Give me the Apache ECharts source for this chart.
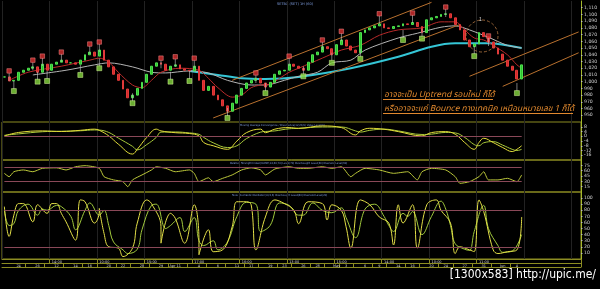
<!DOCTYPE html>
<html><head><meta charset="utf-8">
<script src="https://cdn.jsdelivr.net/npm/echarts@6/dist/echarts.min.js"></script>
<style>html,body{margin:0;padding:0;background:#000;}#c{width:600px;height:289px;}</style>
</head><body><div id="c"></div>
<script>
// ---------- data ----------
const N = 122;
const categories = Array.from({length: N}, (_, i) => String(i));
const closes = [1007,1001,1002,1014,1017,1020,1022,1014,1026,1017,
 1026,1029,1032,1028,1028,1026,1032,1040,1044,1038,
 1047,1032,1022,1011,1002,989,976,980,990,999,
 1011,1023,1028,1026,1017,1023,1025,1019,1017,1016,
 1023,1002,987,993,980,973,964,956,968,980,
 990,998,1002,1005,998,992,999,1011,1016,1017,
 1026,1023,1020,1017,1029,1040,1044,1052,1049,1040,
 1055,1062,1053,1047,1043,1073,1077,1080,1083,1086,
 1080,1079,1082,1083,1086,1085,1088,1082,1073,1092,
 1095,1097,1100,1101,1095,1085,1077,1062,1052,1056,
 1073,1067,1059,1050,1041,1032,1023,1017,1004,1025];
const lastPriceLabel = '1,025';

const maShort = [[1.2,1002],[5.4,1014],[11.7,1023],[18,1032],[20.1,1035],[22.3,1029],[24.4,1014],[26.5,995],[28.6,991],[30.7,1002],[32.8,1014],[37,1020],[41.2,1017],[43.3,1005],[45.4,991],[47.5,977],[49.6,980],[51.7,991],[53.9,995],[56,996],[58.1,1005],[60.2,1014],[62.3,1020],[66.5,1035],[70.7,1047],[74.9,1054],[79.1,1069],[83.4,1077],[87.6,1080],[91.8,1089],[94.9,1089],[97.1,1077],[99.2,1065],[101.3,1062],[103.4,1054],[105.5,1040],[107.6,1025],[108.9,1020]];
const maMid = [[6.4,1010],[13.2,1017],[18.7,1025],[22.3,1028],[27.1,1022],[30.7,1014],[34.3,1013],[38.5,1016],[42.7,1013],[46.9,1002],[51.7,995],[55.3,995],[58.7,1002],[62.3,1008],[65.9,1014],[69.2,1028],[72.8,1032],[76.4,1047],[83.4,1065],[86.9,1072],[91.8,1081],[94.5,1083],[97.5,1077],[101.7,1066],[105.9,1054],[108.6,1050]];
const maLong = [[38.5,1016],[44.8,1010],[49.6,1005],[55.3,1004],[62.3,1007],[72.8,1020],[83.4,1037],[90.3,1052],[94.5,1057],[101.7,1057],[108.6,1050]];

const chanAUpper = [[47.5,1002],[90.1,1118]];
const chanALower = [[44.4,946],[96,1085]];
const chanBUpper = [[98.1,1008],[121.4,1074]];
const chanBLower = [[105,993],[121.4,1043]];

const sellMarks = [[0.5,1016],[5.6,1032],[7.9,1038],[12.1,1044],[17.8,1056],[20.1,1059],[33.2,1035],[35.5,1037],[40.4,1035],[53.2,1013],[60.2,1038],[67.1,1062],[70.9,1075],[78.7,1101],[85.9,1102],[92.6,1111],[101.9,1068]];
const buyMarks = [[1.6,986],[7.1,1000],[9.2,1001],[15.5,1010],[19.7,1020],[27.3,968],[34.5,1000],[39.1,1001],[47.1,946],[55.3,983],[63.1,1008],[69.4,1028],[74.5,1034],[84.2,1062],[88.4,1064],[98.7,1038],[108,983]];

const macdLine = [[0,0.3],[3.3,3.2],[7.5,4.5],[11.7,4],[15.9,5],[18.7,6],[20.1,5],[22.2,0.3],[24.4,-6.6],[26.5,-15],[27.9,-11],[30,-1],[31.7,6],[33.4,4.5],[35.5,3],[38.5,2.3],[40.6,0.3],[41.8,-5.3],[44,-8],[46.9,-11],[49,-4],[51.1,3],[53.9,6],[55.3,3],[57.4,6],[60.2,7.3],[62.3,6.7],[66.5,8.7],[70.7,7.3],[73.5,1.1],[74.9,4.5],[77,6.7],[79.8,5.9],[83.4,3.9],[87.6,0.3],[90.3,3.1],[93.3,3.9],[94.5,1.7],[96.6,-5.3],[98.5,-11],[100.2,-5.3],[101.3,-1.7],[102.9,-5.3],[105.1,-9.5],[107.2,-12.9],[108.2,-11],[109.1,-8]];
const signalLine = [[0,0.8],[3.3,2],[7.5,3.8],[11.7,4.2],[15.9,4.6],[18.7,5.3],[20.1,5.2],[22.2,3.2],[24.4,-1.5],[26.5,-8.5],[27.9,-11.5],[30,-7],[31.7,-1],[33.4,3.5],[35.5,3.6],[38.5,2.8],[40.6,1.6],[41.8,-1],[44,-5.5],[46.9,-9.5],[49,-8],[51.1,-2],[53.9,3.5],[55.3,4],[57.4,4.5],[60.2,6.3],[62.3,6.6],[66.5,7.8],[70.7,7.8],[73.5,4.5],[74.9,3.5],[77,5],[79.8,6],[83.4,4.5],[87.6,1.5],[90.3,1.8],[93.3,3.2],[94.5,2.8],[96.6,-1],[98.5,-7],[100.2,-8],[101.3,-5.5],[102.9,-4.5],[105.1,-7.5],[107.2,-11],[108.2,-12],[109.1,-11]];

const rsiLine = [[0,52.5],[0.5,43],[1.8,57],[3.9,62],[6,57],[8.1,66.6],[11.1,68],[13.2,62],[15.3,71],[17.4,74],[19.5,66.6],[20.8,43],[22.9,34],[25,29],[26.1,15],[27.1,34],[28.6,48],[30.7,62],[32.2,71],[34.3,66.6],[36.4,57],[38.5,62],[39.7,52.5],[41.2,29],[42.7,40],[43.9,29],[46.1,38.5],[47.5,48],[49.6,62],[51.7,68],[53.9,62],[55.3,48],[57.4,64.7],[60.2,71],[62.3,66.6],[64.4,66.6],[66.5,71],[69.2,66.6],[70.7,71],[72.8,43],[74.3,52.5],[76.4,66.6],[79.1,62],[81.9,52.5],[84.8,57],[87.1,34],[88.2,57],[90.3,66.6],[93.3,62],[94.5,43],[95.6,24.4],[97.5,29],[99.6,43],[100.6,57],[101.9,34],[104.4,34],[105.9,38.5],[108,29],[109.1,48]];

const stochK = [[0,86],[0.8,37],[1.8,72],[2.7,91],[3.9,91],[6,61],[7.1,89],[8.6,75],[9.6,91],[11.3,91],[12.3,75],[13.4,61],[14.5,31],[15.5,97],[17.4,94],[18.5,59],[19.5,78],[20.1,83],[21.2,42],[22.2,20],[23.7,18],[25.4,4],[26.9,18],[28.2,59],[29.6,97],[31.3,91],[32.8,53],[33.4,26],[34.9,75],[36.4,67],[37.6,26],[39.5,89],[40.6,31],[41.2,7],[42.7,48],[43.9,12],[46.1,15],[47.5,53],[49,94],[51.1,94],[52.4,89],[53.4,15],[55.3,69],[56.6,97],[58.7,91],[60.8,80],[62.3,58],[63.8,94],[66.5,91],[67.5,64],[69.2,89],[71.1,80],[72.2,53],[73.2,18],[74.9,97],[77,89],[78.7,69],[80.6,59],[81.7,23],[82.9,89],[84,59],[85.5,89],[87.1,18],[89,89],[91.1,97],[92.4,80],[93.5,59],[94.5,9],[96,20],[97.5,15],[98.7,12],[99.8,97],[101.3,78],[102.7,15],[104.4,9],[106.1,12],[107.6,15],[108.6,69]];
const stochD = [[0,80],[1,55],[2,58],[3,80],[4.5,90],[6.5,72],[7.5,82],[9,80],[10.5,88],[12,86],[13.5,70],[15,48],[16.5,80],[18,92],[19.5,72],[20.5,80],[21.8,55],[23,28],[24.5,15],[26,9],[27.5,16],[29,48],[30.5,88],[32,90],[33.8,50],[35.2,55],[36.8,68],[38.3,45],[40,68],[41.3,30],[42.3,22],[43.5,30],[45,15],[47,28],[48.5,70],[50.5,93],[52.5,90],[53.8,45],[55.5,55],[57.5,92],[59.5,88],[61.5,72],[63,72],[65,92],[67,80],[68.5,76],[70.5,84],[72,68],[73.5,35],[75.5,82],[77.5,90],[79.5,70],[81,55],[82.3,45],[83.5,75],[84.8,70],[86,78],[87.6,40],[89.5,70],[91.5,95],[93,82],[94,55],[95,25],[96.5,16],[98,14],[99.2,45],[100.5,88],[102,50],[103.5,22],[105.3,11],[107,13],[108.6,40]];

const hourLabelIdx = [10,20,30,40,50,60,70,80,90,100];
const hourLabels = ['14:00','10:00','15:00','17:00','16:00','13:00','15:00','14:00','10:00','11:00'];
const dayLabelIdx = [3,7,11,15,18,22,25,29,33,36,41,45,49,52,56,59,63,66,70,72,76,79,83,86,90,93,97,101,105,108];
const dayLabels = ['24','26','12','14','16','20','22','28','29','Apr 11','4','6','11','17','19','23','26','28','May','3','6','9','14','16','20','24','27','31','Jun','4'];

const titleText = 'SETBX (SET) 1H (60)';
const macdTitle = 'Moving Average Convergence / Divergence(12,26,9) Value Level(0)';
const rsiTitle = 'Relative Strength Index(CLOSE,14,30,70) Level(70) Overbought Level(30) Oversold Level(30)';
const stochTitle = 'Slow Stochastic Oscillator(14,3,3) Overbought Level(80) Oversold Level(20)';
const note1 = 'อาจจะเป็น Uptrend รอบใหม่ ก็ได้';
const note2 = 'หรืออาจจะแค่ Bounce ทางเทคนิค เหมือนหมายเลข 1 ก็ได้';
const watermark = '[1300x583] http://upic.me/';

// ---------- build ----------
const candles = closes.map((c, i) => {
  const o = i ? closes[i - 1] : c;
  return [o, c, Math.min(o, c), Math.max(o, c)];
});
const lastIdx = closes.length - 1;
const hourMap = {}; hourLabelIdx.forEach((k, j) => hourMap[k] = hourLabels[j]);
const dayMap = {}; dayLabelIdx.forEach((k, j) => dayMap[k] = dayLabels[j]);
const daySep = {};
for (let j = 0; j < dayLabelIdx.length - 1; j++) daySep[Math.round((dayLabelIdx[j] + dayLabelIdx[j + 1]) / 2)] = 1;

const OLIVE = '#8c8c22';
const AXIS = '#a6b82a';
const PINK = '#8a4858';
const LBL = '#cfcfcf';
const G = {left: 2, right: 19};
const grids = [
  Object.assign({top: 1, height: 121, show: false}, G),
  Object.assign({top: 122, height: 38, show: true, borderColor: OLIVE, borderWidth: 1, backgroundColor: 'transparent'}, G),
  Object.assign({top: 160, height: 32, show: true, borderColor: OLIVE, borderWidth: 1, backgroundColor: 'transparent'}, G),
  Object.assign({top: 192, height: 67, show: true, borderColor: OLIVE, borderWidth: 1, backgroundColor: 'transparent'}, G)
];
grids.forEach(g => { g.containLabel = false; g.outerBoundsMode = 'none'; });

function plainX(gi) {
  return {type: 'category', gridIndex: gi, data: categories, boundaryGap: true,
    axisLine: {show: false}, axisTick: {show: false}, axisLabel: {show: false},
    splitLine: {show: true, interval: 9, lineStyle: {color: '#222222', width: 1}}};
}
const xAxes = [plainX(0), plainX(1), plainX(2), plainX(3),
  {type: 'category', gridIndex: 3, data: categories, boundaryGap: true, position: 'bottom',
    axisLine: {show: true, lineStyle: {color: OLIVE}},
    axisTick: {show: true, length: 4, interval: (i) => hourMap[i] !== undefined, lineStyle: {color: OLIVE}},
    axisLabel: {show: true, interval: (i) => hourMap[i] !== undefined, formatter: (v, i) => hourMap[i] || '',
      fontSize: 3.5, color: LBL, margin: 0.6, align: 'left', fontFamily: 'DejaVu Sans'},
    splitLine: {show: false}},
  {type: 'category', gridIndex: 3, data: categories, boundaryGap: true, position: 'bottom', offset: 4,
    axisLine: {show: true, lineStyle: {color: OLIVE}},
    axisTick: {show: true, length: 4, interval: (i) => daySep[i] !== undefined, lineStyle: {color: OLIVE}},
    axisLabel: {show: true, interval: (i) => dayMap[i] !== undefined, formatter: (v, i) => dayMap[i] || '',
      fontSize: 3.5, color: LBL, margin: 0.6, fontFamily: 'DejaVu Sans'},
    splitLine: {show: false}},
  {type: 'category', gridIndex: 3, data: categories, boundaryGap: true, position: 'bottom', offset: 8,
    axisLine: {show: true, lineStyle: {color: OLIVE}}, axisTick: {show: false}, axisLabel: {show: false}, splitLine: {show: false}}
];

function rightY(gi, min, max, interval, fmt) {
  return {type: 'value', gridIndex: gi, position: 'right', min, max, interval, scale: false,
    axisLine: {show: true, onZero: false, lineStyle: {color: AXIS, width: 1}},
    axisTick: {show: true, length: 1.5, lineStyle: {color: '#bbbbbb'}},
    axisLabel: {show: true, fontSize: 4.6, color: LBL, margin: 3, fontFamily: 'DejaVu Sans',
      showMinLabel: false, showMaxLabel: false, formatter: fmt},
    splitLine: {show: false}};
}
const fmtPrice = v => v >= 1000 ? Math.floor(v / 1000) + ',' + String(v % 1000).padStart(3, '0') : String(v);
const yAxes = [rightY(0, 940, 1120, 10, fmtPrice), rightY(1, -20, 12, 4), rightY(2, 0, 90, 15), rightY(3, 0, 110, 10)];

function lineS(data, xi, color, width, z, smooth) {
  return {type: 'line', xAxisIndex: xi, yAxisIndex: xi, data, showSymbol: false, symbol: 'none',
    smooth: smooth || false, lineStyle: {color, width}, z: z || 3, silent: true, animation: false};
}
function level(values, xi) {
  return {type: 'line', xAxisIndex: xi, yAxisIndex: xi, data: [], silent: true,
    markLine: {symbol: 'none', silent: true, animation: false, label: {show: false},
      lineStyle: {color: PINK, width: 1, type: 'solid'},
      data: values.map(v => [{coord: [0, v]}, {coord: [lastIdx, v]}])}};
}

const series = [
  {type: 'candlestick', xAxisIndex: 0, yAxisIndex: 0, data: candles, barMaxWidth: 2.6, z: 4,
    itemStyle: {color: '#2fc42f', color0: '#d42a2a', borderColor: '#4ee04e', borderColor0: '#e23a3a', borderWidth: 1},
    markLine: {symbol: 'none', silent: true, animation: false, lineStyle: {opacity: 0},
      label: {show: true, position: 'end', distance: 1, formatter: lastPriceLabel, fontSize: 4.6,
        color: '#0a2a0a', backgroundColor: '#6fcf5f', padding: [1, 2], fontFamily: 'DejaVu Sans'},
      data: [{yAxis: closes[lastIdx]}]}},
  lineS(maLong, 0, '#35c6d6', 2, 2, 0.3),
  lineS(maMid, 0, '#b4b4b4', 1, 2, 0.3),
  lineS(maShort, 0, '#b82a2a', 1, 3, 0.3),
  lineS(chanAUpper, 0, '#b8702e', 1, 2),
  lineS(chanALower, 0, '#b8702e', 1, 2),
  lineS(chanBUpper, 0, '#b8702e', 1, 2),
  lineS(chanBLower, 0, '#b8702e', 1, 2),
  {type: 'scatter', xAxisIndex: 0, yAxisIndex: 0, data: sellMarks, symbol: 'rect', symbolSize: [0.8, 8],
    symbolOffset: [0, 6], itemStyle: {color: '#bdbdbd'}, z: 5, silent: true},
  {type: 'scatter', xAxisIndex: 0, yAxisIndex: 0, data: buyMarks, symbol: 'rect', symbolSize: [0.8, 8],
    symbolOffset: [0, -6], itemStyle: {color: '#bdbdbd'}, z: 5, silent: true},
  {type: 'scatter', xAxisIndex: 0, yAxisIndex: 0, data: sellMarks, symbol: 'rect', symbolSize: 4.5,
    itemStyle: {color: '#d83030', borderColor: '#ff9090', borderWidth: 0.6}, z: 6, silent: true},
  {type: 'scatter', xAxisIndex: 0, yAxisIndex: 0, data: buyMarks, symbol: 'rect', symbolSize: 5,
    itemStyle: {color: '#86d83e', borderColor: '#e0ffa0', borderWidth: 0.6}, z: 6, silent: true},
  level([0], 1),
  lineS(signalLine, 1, '#a8c83a', 1, 3, 0.4),
  lineS(macdLine, 1, '#e2dc3a', 1, 3, 0.4),
  level([70, 30], 2),
  lineS(rsiLine, 2, '#bcc83a', 1, 3, 0.2),
  level([80, 20], 3),
  lineS(stochD, 3, '#a0c83c', 1, 3, 0.4),
  lineS(stochK, 3, '#e4e048', 1, 3, 0.4)
];

const tiny = (x, y, t) => ({type: 'text', left: x, top: y, silent: true,
  style: {text: t, fontSize: 2.8, fill: '#7f9ee0', fontFamily: 'DejaVu Sans Condensed, DejaVu Sans'}});
const noteStyle = {fontSize: 8.4, fill: '#e2892e', fontStyle: 'italic', fontFamily: 'Noto Sans Thai, Noto Sans, DejaVu Sans, sans-serif',
  stroke: '#000', lineWidth: 2};

const option = {
  backgroundColor: '#000',
  animation: false,
  grid: grids, xAxis: xAxes, yAxis: yAxes, series,
  graphic: [
    {type: 'text', left: 277, top: 2, silent: true, style: {text: titleText, fontSize: 3.5, fill: '#7f9ee0', fontFamily: 'DejaVu Sans'}},
    tiny(240, 123.5, macdTitle),
    tiny(230, 161.5, rsiTitle),
    tiny(232, 193.5, stochTitle),
    {type: 'circle', silent: true, shape: {cx: 482, cy: 36, r: 16}, style: {fill: 'none', stroke: '#b87a44', lineWidth: 0.8, lineDash: [3, 2]}, z: 10},
    {type: 'text', left: 479, top: 17, silent: true, style: {text: '1', fontSize: 5, fill: '#dddddd'}, z: 10},
    {type: 'text', left: 383, top: 90, silent: true, style: Object.assign({text: note1}, noteStyle), z: 20},
    {type: 'line', silent: true, shape: {x1: 383, y1: 99.5, x2: 493, y2: 99.5}, style: {stroke: '#e2892e', lineWidth: 1}, z: 20},
    {type: 'text', left: 383, top: 104, silent: true, style: Object.assign({text: note2}, noteStyle), z: 20},
    {type: 'line', silent: true, shape: {x1: 383, y1: 113.5, x2: 573, y2: 113.5}, style: {stroke: '#e2892e', lineWidth: 1}, z: 20},
    {type: 'text', right: 4, top: 269, silent: true, style: {text: watermark, fontSize: 12, fill: '#ffffff', fontFamily: 'DejaVu Sans Condensed, DejaVu Sans'}, z: 20}
  ]
};
const chart = echarts.init(document.getElementById('c'), null, {renderer: 'canvas'});
chart.setOption(option);
</script>
</body></html>
